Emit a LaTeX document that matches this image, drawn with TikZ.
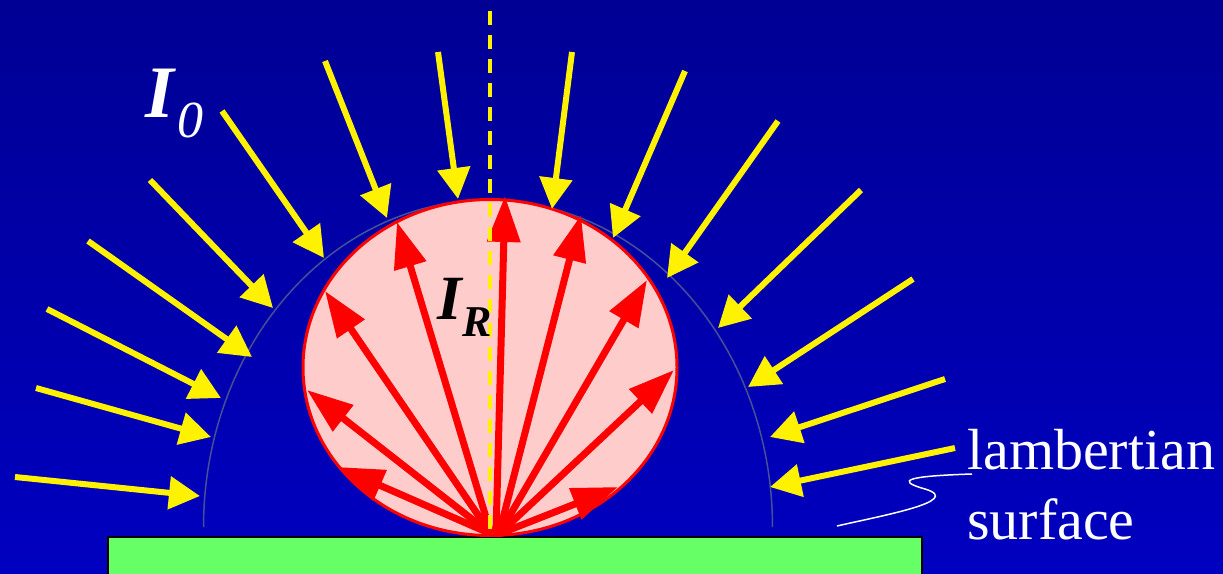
\documentclass[tikz,border=0pt]{standalone}
\usepackage{fontspec}
\setmainfont{Liberation Serif}
\usetikzlibrary{arrows.meta}
\definecolor{bgtop}{RGB}{0,0,148}
\definecolor{bgbot}{RGB}{0,0,192}
\definecolor{arcgray}{RGB}{70,80,150}
\definecolor{pinkfill}{RGB}{255,204,204}
\definecolor{surfgreen}{RGB}{102,255,102}
\tikzset{
  inray/.style={draw=yellow, line width=6pt, -{Triangle[length=31pt,width=32pt]}},
  outray/.style={draw=red, line width=7pt, -{Triangle[length=46pt,width=32pt]}},
  lbl/.style={inner sep=0pt, anchor=base west},
}
\begin{document}
\begin{tikzpicture}[x=1pt,y=-1pt]
\useasboundingbox (0,0) rectangle (1223,573);
% background
\fill[top color=bgtop, bottom color=bgbot] (0,0) rectangle (1223,573);
% lambertian surface
\draw[fill=surfgreen, draw=black, line width=1.5pt] (108,537) rectangle (922,580);
% hemisphere of incident light
\draw[arcgray, line width=1.5pt] plot[domain=180:0, samples=90] ({488+284.5*cos(\x)}, {527-327*sin(\x)});
% reflected intensity lobe
\draw[fill=pinkfill, draw=red, line width=3pt] (490,367.5) ellipse [x radius=187pt, y radius=168pt];
% incoming rays
\foreach \i/\ax/\ay/\bx/\by in {
  1/15/477/200/496, 2/36/388/211/437, 3/47/309/221/398, 4/88/241/252/357,
  5/150/180/273/308, 6/222/111/324/258, 7/325/61/387/218, 8/438/52/458/199,
  9/572/52/552/209, 10/685/71/613/238, 11/778/121/667/278, 12/861/190/718/328,
  13/913/279/748/387, 14/945/379/770/437, 15/955/448/770/487} {
  \coordinate (yt\i) at (\ax,\ay);
  \coordinate (yh\i) at (\bx,\by);
  \draw[inray] (yt\i) -- (yh\i);
}
% reflected rays
\coordinate (bl) at (491,534);
\coordinate (bc) at (496,534);
\coordinate (br) at (499,534);
\foreach \i/\b/\tx/\ty in {
  1/bl/338/467, 2/bl/307/390, 3/bl/325/291, 4/bl/397/222, 5/bc/505/196,
  6/br/581/215, 7/br/647/280, 8/br/674/370, 9/br/618/487} {
  \coordinate (rh\i) at (\tx,\ty);
  \draw[outray] (\b) -- (rh\i);
}
% normal
\coordinate (ntop) at (490,11);
\coordinate (nbot) at (490,535);
\draw[yellow, line width=4pt, dash pattern=on 14pt off 10pt] (ntop) -- (nbot);
% labels
\node[lbl, text=white] (i0) at (145,117) {\fontsize{74}{74}\selectfont\bfseries\itshape I};
\node[lbl, text=white] (i0s) at (177,137) {\fontsize{52}{52}\selectfont\itshape 0};
\node[lbl, text=black] (ir) at (437,319) {\fontsize{63}{63}\selectfont\bfseries\itshape I};
\node[lbl, text=black] (irs) at (462,336) {\fontsize{44}{44}\selectfont\bfseries\itshape R};
\node[lbl, text=white] (lam1) at (967,469) {\fontsize{58}{58}\selectfont lambertian};
\node[lbl, text=white] (lam2) at (967,539) {\fontsize{58}{58}\selectfont surface};
% leader squiggle
\coordinate (sq0) at (837,526);
\coordinate (sq1) at (925,489);
\coordinate (sq2) at (972,474);
\draw[white, line width=1.5pt] (sq0) .. controls (880,516) and (965,501) .. (sq1)
  .. controls (893,480) and (910,476) .. (sq2);
\end{tikzpicture}
\end{document}
